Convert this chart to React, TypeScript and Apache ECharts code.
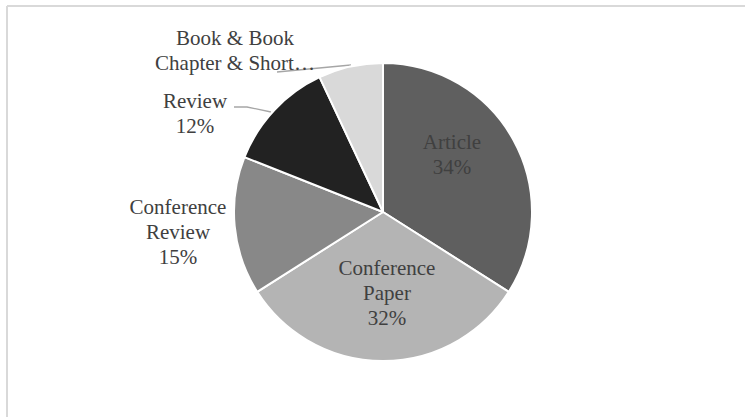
import React, { useEffect, useRef } from "react";
import * as echarts from "echarts";

const categories = ["Article", "Conference Paper", "Conference Review", "Review", "Book & Book Chapter & Short Survey"];
const shares = [34, 32, 15, 12, 7];
const labelTexts = ["Article\n34%", "Conference\nPaper\n32%", "Conference\nReview\n15%", "Review\n12%", "Book & Book\nChapter & Short…"];
const sliceColors = ["#5f5f5f", "#b4b4b4", "#888888", "#222222", "#d9d9d9"];

const labelPos: Array<[number, number]> = [
  [452, 154],
  [387, 293],
  [178, 232],
  [195, 113],
  [235, 50],
];
const linePts: Array<number[][] | null> = [
  null,
  null,
  null,
  [[271, 112], [247, 107], [234, 107]],
  [[351, 65], [277, 72]],
];

export default function App() {
  const ref = useRef<HTMLDivElement>(null);
  useEffect(() => {
    if (!ref.current) return;
    const chart = echarts.init(ref.current, null, { renderer: "svg" });
    chart.setOption({
      animation: false,
      backgroundColor: "#ffffff",
      graphic: [
        {
          type: "line",
          shape: { x1: 7, y1: 6, x2: 745, y2: 6 },
          style: { stroke: "#d9d9d9", lineWidth: 2 },
          silent: true,
        },
        {
          type: "line",
          shape: { x1: 7, y1: 6, x2: 7, y2: 417 },
          style: { stroke: "#d9d9d9", lineWidth: 2 },
          silent: true,
        },
      ],
      series: [
        {
          type: "pie",
          center: [383, 212],
          radius: 149,
          startAngle: 90,
          clockwise: true,
          avoidLabelOverlap: false,
          itemStyle: { borderColor: "#ffffff", borderWidth: 2 },
          label: {
            show: true,
            fontFamily: "Liberation Serif",
            fontSize: 21,
            lineHeight: 25,
            color: "#404040",
            align: "center",
          },
          labelLine: { show: true, lineStyle: { color: "#a6a6a6", width: 1.3 } },
          labelLayout: (p: any) => {
            const i = p.dataIndex;
            const res: any = {
              x: labelPos[i][0],
              y: labelPos[i][1],
              align: "center",
              verticalAlign: "middle",
            };
            if (linePts[i]) res.labelLinePoints = linePts[i];
            return res;
          },
          data: categories.map((name, i) => ({
            name,
            value: shares[i],
            itemStyle: { color: sliceColors[i] },
            label: { formatter: labelTexts[i] },
            labelLine: { show: linePts[i] !== null },
          })),
        },
      ],
    });
    return () => chart.dispose();
  }, []);
  return (
    <div
      ref={ref}
      style={{ position: "absolute", left: 0, top: 0, width: 745, height: 417 }}
    />
  );
}
